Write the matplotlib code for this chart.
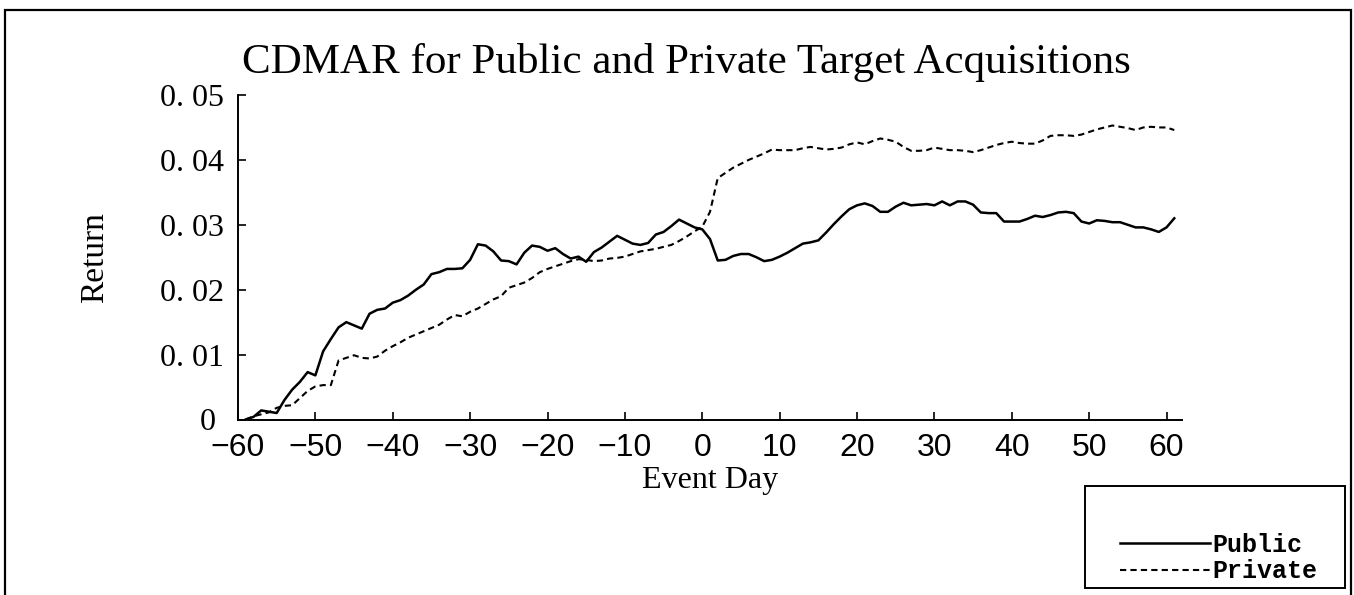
import numpy as np
import matplotlib
matplotlib.use("Agg")
import matplotlib.pyplot as plt
from matplotlib.patches import Rectangle

days = list(range(-59, 62))

public = [
    0.0000, 0.0004, 0.0014, 0.0012, 0.0010, 0.0030, 0.0046, 0.0058, 0.0073, 0.0068,
    0.0105, 0.0124, 0.0142, 0.0150, 0.0145, 0.0140, 0.0163, 0.0169, 0.0171, 0.0180,
    0.0184, 0.0191, 0.0200, 0.0208, 0.0224, 0.0227, 0.0232, 0.0232, 0.0233, 0.0246,
    0.0270, 0.0268, 0.0259, 0.0245, 0.0244, 0.0239, 0.0257, 0.0268, 0.0266, 0.0260,
    0.0264, 0.0255, 0.0248, 0.0251, 0.0243, 0.0258, 0.0265, 0.0274, 0.0283, 0.0277,
    0.0271, 0.0269, 0.0272, 0.0285, 0.0289, 0.0298, 0.0308, 0.0302, 0.0296, 0.0293,
    0.0278, 0.0245, 0.0246, 0.0252, 0.0255, 0.0255, 0.0250, 0.0244, 0.0246, 0.0251,
    0.0257, 0.0264, 0.0271, 0.0273, 0.0276, 0.0288, 0.0301, 0.0313, 0.0324, 0.0330,
    0.0333, 0.0329, 0.0320, 0.0320, 0.0328, 0.0334, 0.0330, 0.0331, 0.0332, 0.0330,
    0.0336, 0.0330, 0.0336, 0.0336, 0.0331, 0.0319, 0.0318, 0.0318, 0.0305, 0.0305,
    0.0305, 0.0309, 0.0314, 0.0312, 0.0315, 0.0319, 0.0320, 0.0318, 0.0305, 0.0302,
    0.0307, 0.0306, 0.0304, 0.0304, 0.0300, 0.0296, 0.0296, 0.0293, 0.0289, 0.0296,
    0.0310,
]

private = [
    0.0000, 0.0005, 0.0008, 0.0011, 0.0018, 0.0021, 0.0022, 0.0033, 0.0044, 0.0051,
    0.0053, 0.0053, 0.0091, 0.0095, 0.0099, 0.0095, 0.0094, 0.0097, 0.0106, 0.0113,
    0.0119, 0.0126, 0.0131, 0.0136, 0.0141, 0.0146, 0.0154, 0.0161, 0.0159, 0.0166,
    0.0171, 0.0178, 0.0185, 0.0190, 0.0203, 0.0207, 0.0211, 0.0218, 0.0227, 0.0232,
    0.0236, 0.0240, 0.0244, 0.0247, 0.0246, 0.0244, 0.0245, 0.0248, 0.0249, 0.0251,
    0.0255, 0.0259, 0.0261, 0.0263, 0.0266, 0.0269, 0.0275, 0.0282, 0.0290, 0.0297,
    0.0320, 0.0372, 0.0380, 0.0388, 0.0394, 0.0400, 0.0405, 0.0410, 0.0416, 0.0415,
    0.0415, 0.0415, 0.0418, 0.0420, 0.0418, 0.0416, 0.0417, 0.0419, 0.0424, 0.0427,
    0.0424, 0.0429, 0.0433, 0.0431, 0.0428, 0.0420, 0.0414, 0.0414, 0.0415, 0.0419,
    0.0417, 0.0415, 0.0415, 0.0414, 0.0412, 0.0415, 0.0419, 0.0423, 0.0426, 0.0428,
    0.0426, 0.0425, 0.0425, 0.0430, 0.0437, 0.0438, 0.0438, 0.0437, 0.0439, 0.0443,
    0.0447, 0.0450, 0.0453, 0.0451, 0.0449, 0.0446, 0.0450, 0.0451, 0.0450, 0.0450,
    0.0446,
]

x_ticks = [-60, -50, -40, -30, -20, -10, 0, 10, 20, 30, 40, 50, 60]
y_ticks = [0, 0.01, 0.02, 0.03, 0.04, 0.05]
y_labels = ["0 ", "0. 01", "0. 02", "0. 03", "0. 04", "0. 05"]

W, H = 1354, 595
fig = plt.figure(figsize=(W / 100, H / 100), dpi=100)
serif = "Liberation Serif"

# outer frame of the chart (bottom edge cut off like the scan)
fig.patches.append(Rectangle((5 / W, -0.02), (1351 - 5) / W, 1 - 10 / H + 0.02,
                             transform=fig.transFigure, fill=False,
                             edgecolor="black", linewidth=1.6))

ax = fig.add_axes([238 / W, (H - 419.5) / H, (1182 - 238) / W, (419.5 - 95) / H])

ax.plot(days, public, color="black", linewidth=1.8, label="Public")
ax.plot(days, private, color="black", linewidth=1.5, linestyle=(0, (3, 2)),
        label="Private")

ax.set_xlim(-60, 62)
ax.set_ylim(0, 0.05)
ax.spines["top"].set_visible(False)
ax.spines["right"].set_visible(False)
for s in ("left", "bottom"):
    ax.spines[s].set_linewidth(1.4)

ax.set_xticks(x_ticks)
ax.set_xticklabels([str(t).replace("-", "\u2212") for t in x_ticks],
                   family="Liberation Sans", fontsize=23)
ax.set_yticks(y_ticks)
ax.set_yticklabels(y_labels, family=serif, fontsize=23)
ax.tick_params(axis="both", direction="in", length=6, width=1.2)
ax.tick_params(axis="x", pad=10)
ax.tick_params(axis="y", pad=10)

ax.set_xlabel("Event Day", family=serif, fontsize=23, labelpad=2)
ax.set_ylabel("Return", family=serif, fontsize=24, labelpad=36)

fig.text(686 / W, 1 - 62 / H, "CDMAR for Public and Private Target Acquisitions",
         ha="center", va="center", family=serif, fontsize=31)

# legend box
fig.patches.append(Rectangle((1085 / W, 1 - 588 / H), (1345 - 1085) / W, (588 - 486) / H,
                             transform=fig.transFigure, fill=False,
                             edgecolor="black", linewidth=1.4))
leg = fig.legend(loc="lower right", bbox_to_anchor=(1330 / W, 1 - 596 / H),
                 frameon=False, handlelength=3.6, handletextpad=0.1,
                 labelspacing=0.1, borderpad=0.0,
                 prop={"family": "Liberation Mono", "weight": "bold", "size": 18})

fig.savefig("out.png", dpi=100)
